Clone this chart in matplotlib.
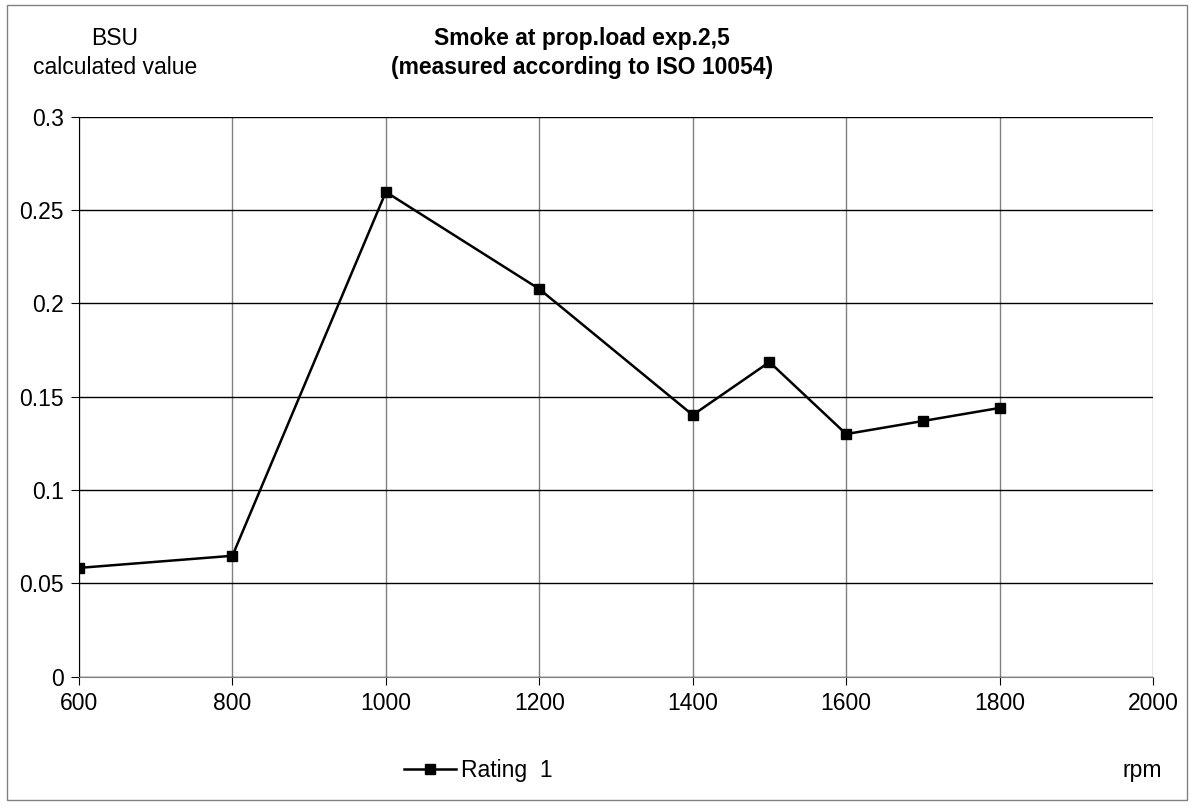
import matplotlib
matplotlib.use('Agg')
import matplotlib.pyplot as plt
from matplotlib.patches import Rectangle

rpm = [600, 800, 1000, 1200, 1400, 1500, 1600, 1700, 1800]
bsu = [0.0583, 0.0648, 0.2597, 0.2077, 0.1402, 0.1686, 0.1300, 0.1370, 0.1440]
x_ticks = [600, 800, 1000, 1200, 1400, 1600, 1800, 2000]
y_ticks = [0, 0.05, 0.1, 0.15, 0.2, 0.25, 0.3]
y_labels = ['0', '0.05', '0.1', '0.15', '0.2', '0.25', '0.3']

plt.rcParams['font.family'] = ['Liberation Sans', 'DejaVu Sans']

fig = plt.figure(figsize=(11.95, 8.09), dpi=100)
fig.patches.append(Rectangle((0.006, 0.011), 0.987, 0.983, transform=fig.transFigure,
                             fill=False, edgecolor='#808080', linewidth=1))

ax = fig.add_axes([0.0661, 0.1635, 0.8988, 0.6922])
ax.plot(rpm, bsu, color='black', marker='s', markersize=7.5, linewidth=1.8, label='Rating  1', zorder=3)

ax.set_xlim(600, 2000)
ax.set_ylim(0, 0.3)
ax.set_xticks(x_ticks)
ax.set_yticks(y_ticks)
ax.set_yticklabels(y_labels)
ax.tick_params(labelsize=16.5, length=6, direction='out', pad=5)
ax.xaxis.grid(True, color='#808080', linewidth=1)
ax.yaxis.grid(True, color='black', linewidth=1)
for side in ['top', 'right']:
    ax.spines[side].set_visible(False)
ax.spines['left'].set_color('black')
ax.spines['bottom'].set_color('#808080')

fig.text(0.096, 0.953, 'BSU', ha='center', va='center', fontsize=16.5)
fig.text(0.096, 0.917, 'calculated value', ha='center', va='center', fontsize=16.5)
fig.text(0.487, 0.953, 'Smoke at prop.load exp.2,5', ha='center', va='center', fontsize=16.5, fontweight='bold')
fig.text(0.487, 0.917, '(measured according to ISO 10054)', ha='center', va='center', fontsize=16.5, fontweight='bold')
fig.text(0.956, 0.047, 'rpm', ha='center', va='center', fontsize=16.5)

fig.legend(loc='center left', bbox_to_anchor=(0.3205, 0.047), frameon=False, fontsize=16.5,
           handlelength=2.3, handletextpad=0.2)

plt.savefig('out.png', dpi=100)
